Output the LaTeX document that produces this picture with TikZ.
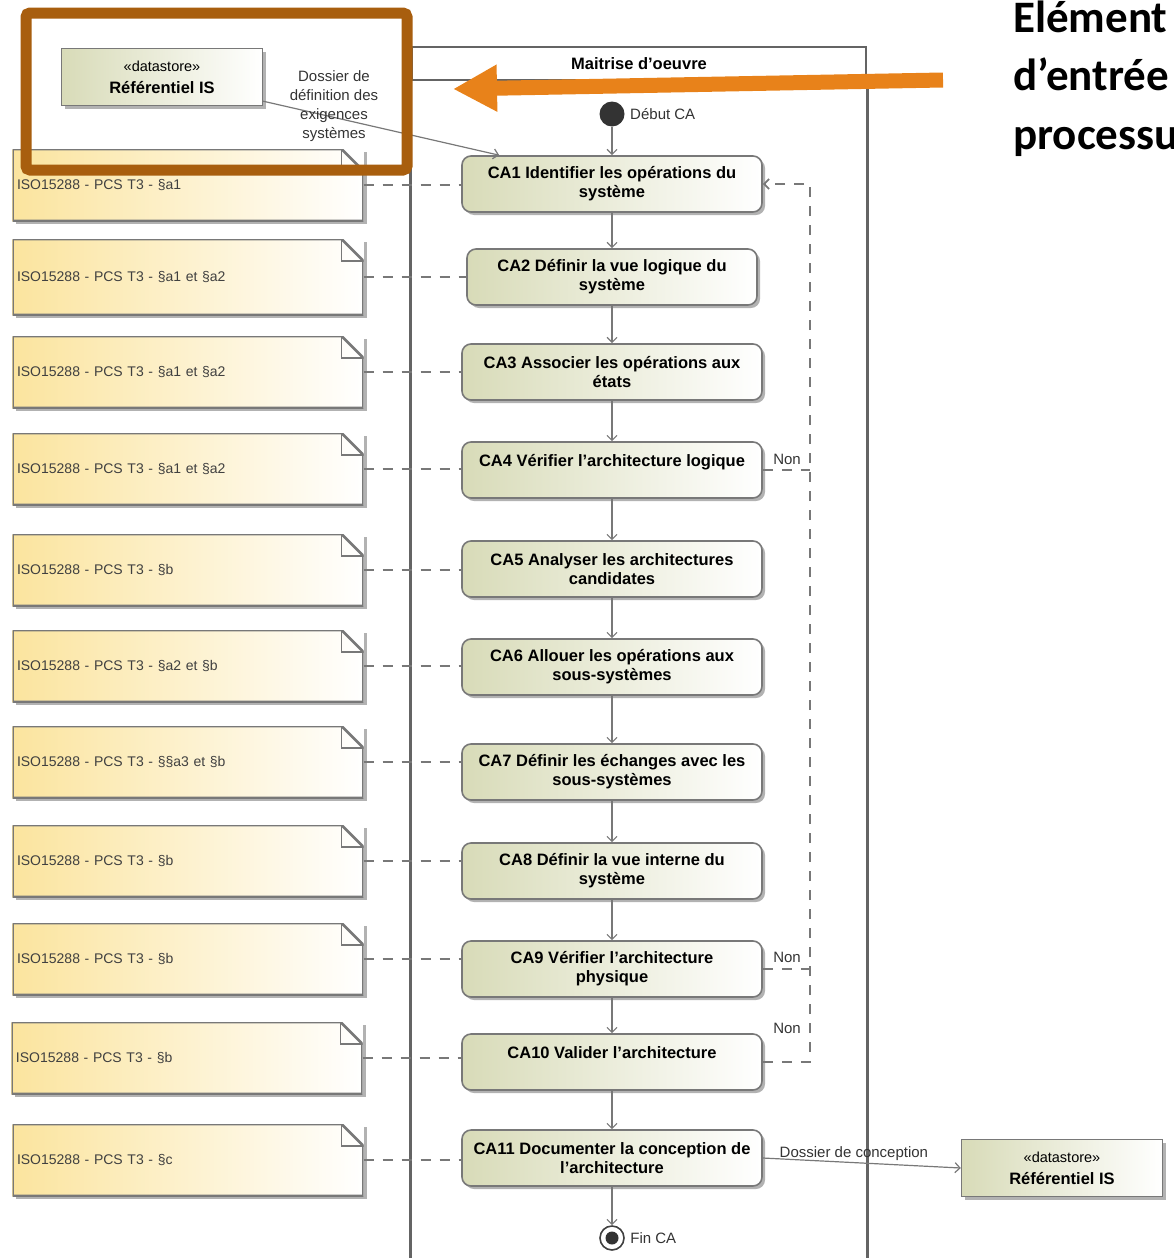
\documentclass[tikz,border=0pt]{standalone}
\usepackage{fontspec}
\setmainfont{Liberation Sans}
\newfontfamily\calibri{Carlito}
\usetikzlibrary{arrows.meta,shadows,positioning}

\definecolor{actgreen}{RGB}{216,219,184}
\definecolor{noteyellow}{RGB}{251,228,158}
\definecolor{umlgray}{RGB}{120,120,120}
\definecolor{lanegray}{RGB}{100,100,100}
\definecolor{boxbrown}{RGB}{168,94,14}
\definecolor{arroworange}{RGB}{232,130,26}

\tikzset{
  umlshadow/.style={drop shadow={shadow xshift=3pt, shadow yshift=-3pt, opacity=.3, fill=black}},
  action/.style={draw=umlgray, line width=1.6pt, rounded corners=9pt,
    left color=actgreen, right color=white, umlshadow,
    minimum width=300pt, minimum height=56pt, align=center,
    font=\fontsize{16.5}{19}\selectfont\bfseries},
  datastore/.style={draw=umlgray, line width=1.4pt,
    left color=actgreen, right color=white, umlshadow,
    minimum width=201pt, minimum height=57pt, align=center,
    font=\fontsize{16.5}{22}\selectfont},
  note/.style={minimum width=351pt, minimum height=72pt, text width=342pt,
    align=left, text=black!75, font=\fontsize{14}{17}\selectfont,
    left color=noteyellow, right color=white, umlshadow,
    path picture={
      \fill[white] ([xshift=-22pt]path picture bounding box.north east)
        -- (path picture bounding box.north east)
        -- ([yshift=-22pt]path picture bounding box.north east) -- cycle;
      \draw[umlgray, line width=2.6pt] (path picture bounding box.south west)
        -- (path picture bounding box.north west)
        -- ([xshift=-22pt]path picture bounding box.north east)
        -- ([yshift=-22pt]path picture bounding box.north east)
        -- (path picture bounding box.south east) -- cycle;
      \draw[umlgray, line width=1.2pt] ([xshift=-22pt]path picture bounding box.north east)
        |- ([yshift=-22pt]path picture bounding box.north east);
    }},
  initial/.style={circle, fill=black!80, minimum size=25pt, inner sep=0pt},
  final/.style={circle, draw=black!75, fill=white, line width=1.6pt, minimum size=24pt, inner sep=0pt},
  lbl/.style={text=black!80, align=center, font=\fontsize{15}{19}\selectfont},
  flow/.style={umlgray, line width=1.2pt, ->},
  trace/.style={umlgray, line width=1.8pt, dash pattern=on 10pt off 9pt},
  lanehead/.style={draw=lanegray, line width=2.6pt, minimum width=454pt, minimum height=33pt,
    inner sep=0pt, font=\fontsize{16.5}{19}\selectfont\bfseries},
  lane/.style={lanegray, line width=2.6pt},
}

\begin{document}
\begin{tikzpicture}[x=1pt,y=-1pt,>={Straight Barb[length=5pt,width=10pt]}]
\useasboundingbox (0,0) rectangle (1173,1258);

% couloir
\node(lane)[lanehead] at (639,63.5) {Maitrise d'oeuvre};
\draw[lane] (lane.south west) -- ++(0,1180);
\draw[lane] (lane.south east) -- ++(0,1180);

% debut et fin
\node(start)[initial] at (612,114) {};
\node(startlbl)[lbl, right=2pt of start] {Début CA};

% activites
\node(CA1)[action] at (612,184) {CA1 Identifier les opérations du\\système};
\node(CA2)[action, minimum width=290pt] at (612,277) {CA2 Définir la vue logique du\\système};
\node(CA3)[action] at (612,372) {CA3 Associer les opérations aux\\états};
\node(CA4)[action] at (612,470) {CA4 Vérifier l'architecture logique\\\mbox{}};
\node(CA5)[action] at (612,569) {CA5 Analyser les architectures\\candidates};
\node(CA6)[action] at (612,667) {CA6 Allouer les opérations aux\\sous-systèmes};
\node(CA7)[action] at (612,772) {CA7 Définir les échanges avec les\\sous-systèmes};
\node(CA8)[action] at (612,871) {CA8 Définir la vue interne du\\système};
\node(CA9)[action] at (612,969) {CA9 Vérifier l'architecture\\physique};
\node(CA10)[action] at (612,1062) {CA10 Valider l'architecture\\\mbox{}};
\node(CA11)[action] at (612,1158) {CA11 Documenter la conception de\\l'architecture};

\node(stop)[final] at (612,1238) {};
\node(stopdot)[circle, fill=black!80, minimum size=13pt, inner sep=0pt] at (stop) {};
\node(stoplbl)[lbl, right=2pt of stop] {Fin CA};

% referentiels
\node(DS1)[datastore] at (162,77) {{\fontsize{14.5}{22}\selectfont «datastore»}\\\textbf{Référentiel IS}};
\node(DS2)[datastore] at (1062,1168) {{\fontsize{14.5}{22}\selectfont «datastore»}\\\textbf{Référentiel IS}};

% notes ISO15288
\node(N1)[note] at (188,185) {ISO15288 - PCS T3 - §a1};
\node(N2)[note, minimum height=76pt] at (188,277) {ISO15288 - PCS T3 - §a1 et §a2};
\node(N3)[note] at (188,372) {ISO15288 - PCS T3 - §a1 et §a2};
\node(N4)[note] at (188,469) {ISO15288 - PCS T3 - §a1 et §a2};
\node(N5)[note] at (188,570) {ISO15288 - PCS T3 - §b};
\node(N6)[note] at (188,666) {ISO15288 - PCS T3 - §a2 et §b};
\node(N7)[note] at (188,762) {ISO15288 - PCS T3 - §§a3 et §b};
\node(N8)[note] at (188,861) {ISO15288 - PCS T3 - §b};
\node(N9)[note] at (188,959) {ISO15288 - PCS T3 - §b};
\node(N10)[note] at (187,1058) {ISO15288 - PCS T3 - §b};
\node(N11)[note] at (188,1160) {ISO15288 - PCS T3 - §c};

\draw[trace] (N1.east) -- (N1.east -| CA1.west);
\draw[trace] (N2.east) -- (N2.east -| CA2.west);
\draw[trace] (N3.east) -- (N3.east -| CA3.west);
\draw[trace] (N4.east) -- (N4.east -| CA4.west);
\draw[trace] (N5.east) -- (N5.east -| CA5.west);
\draw[trace] (N6.east) -- (N6.east -| CA6.west);
\draw[trace] (N7.east) -- (N7.east -| CA7.west);
\draw[trace] (N8.east) -- (N8.east -| CA8.west);
\draw[trace] (N9.east) -- (N9.east -| CA9.west);
\draw[trace] (N10.east) -- (N10.east -| CA10.west);
\draw[trace] (N11.east) -- (N11.east -| CA11.west);

% enchainement
\draw[flow] (start) -- (CA1);
\draw[flow] (CA1) -- (CA2);
\draw[flow] (CA2) -- (CA3);
\draw[flow] (CA3) -- (CA4);
\draw[flow] (CA4) -- (CA5);
\draw[flow] (CA5) -- (CA6);
\draw[flow] (CA6) -- (CA7);
\draw[flow] (CA7) -- (CA8);
\draw[flow] (CA8) -- (CA9);
\draw[flow] (CA9) -- (CA10);
\draw[flow] (CA10) -- (CA11);
\draw[flow] (CA11) -- (stop);

% retours
\coordinate(back) at (810,184);
\draw[trace,->] (CA10.east) -- (CA10.east -| back) -- (back) -- (CA1.east);
\draw[trace] (CA9.east) -- (CA9.east -| back);
\draw[trace] (CA4.east) -- (CA4.east -| back);
\node(non4)[lbl] at (787,459) {Non};
\node(non9)[lbl] at (787,957) {Non};
\node(non10)[lbl] at (787,1028) {Non};

% flux de donnees
\draw[flow] ([yshift=5pt]DS1.south east) -- ([xshift=38pt]CA1.north west);
\node(dossier1)[lbl] at (334,106) {Dossier de\\définition des\\exigences\\systèmes};
\draw[flow] (CA11.east) -- (DS2.west) node(dossier2)[lbl, above, pos=.46, inner sep=1pt] {Dossier de conception};

% mise en evidence
\draw[boxbrown, line width=11pt, rounded corners=4pt] (26,13) rectangle (407,170);
\coordinate(calloutfrom) at (943,80);
\coordinate(calloutto) at (453,89);
\draw[arroworange, line width=15pt, -{Triangle[length=44pt,width=44pt]}] (calloutfrom) -- (calloutto);
\node(callout)[anchor=base west, align=left, inner sep=0pt,
  font=\calibri\bfseries\fontsize{45}{58.5}\selectfont] at (1013,149) {Elément\\d’entrée\\processu};
\end{tikzpicture}
\end{document}
